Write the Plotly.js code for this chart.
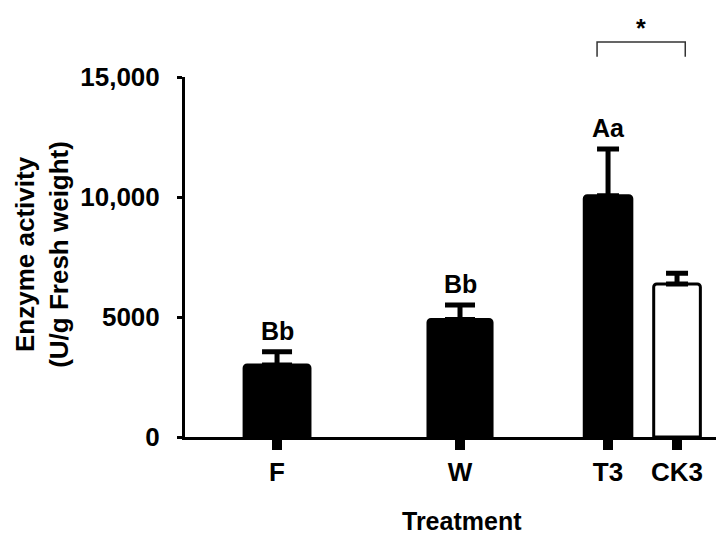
<!DOCTYPE html>
<html><head><meta charset="utf-8">
<script src="https://cdn.plot.ly/plotly-3.0.1.min.js"></script>
<style>html,body{margin:0;padding:0;background:#fff}</style>
</head><body><div id="chart" style="width:716px;height:542px"></div>
<script>
// ---- data ----
const categories = ['F', 'W', 'T3', 'CK3'];
const means = [3000, 4900, 10050, 6375];
const errors = [550, 600, 1950, 450];
const letters = ['Bb', 'Bb', 'Aa', ''];
const yTickVals = [0, 5000, 10000, 15000];
const yTickText = ['0', '5000', '10,000', '15,000'];
const sigMark = '*';

// ---- layout / style ----
const slotPos = [1, 2, 2.809, 3.186];
const barWidths = [0.36, 0.35, 0.26, 0.255];
const fills = ['#000', '#000', '#000', '#fff'];
const capHalf = [15, 15, 11, 11];
const FONT = 'Liberation Sans, Arial, sans-serif';

const traces = categories.map((c, i) => ({
  type: 'bar', x: [slotPos[i]], y: [means[i]], width: [barWidths[i]], name: c,
  marker: {color: fills[i], line: {color: '#000', width: 3}, cornerradius: 3},
  error_y: {type: 'data', symmetric: false, array: [errors[i]], arrayminus: [0],
            color: '#000', thickness: 5, width: capHalf[i]},
  hoverinfo: 'none'
}));

const annotations = [];
categories.forEach((c, i) => {
  if (letters[i]) annotations.push({
    x: slotPos[i], y: means[i] + errors[i], xref: 'x', yref: 'y',
    text: letters[i], showarrow: false, yanchor: 'bottom', yshift: 5,
    font: {family: FONT, size: 25, color: '#000', weight: 'bold'}
  });
});
const bx0 = slotPos[2] - 0.06, bx1 = slotPos[3] + 0.045;
annotations.push({
  x: (bx0 + bx1) / 2, y: 1.097, xref: 'x', yref: 'paper', text: sigMark, showarrow: false,
  yanchor: 'bottom', yshift: -2, font: {family: FONT, size: 25, color: '#000', weight: 'bold'}
});
annotations.push({
  x: 0, y: 0.506, xref: 'paper', yref: 'paper', xshift: -143, textangle: -90,
  text: 'Enzyme activity<br>(U/g Fresh weight)', showarrow: false,
  xanchor: 'center', yanchor: 'middle',
  font: {family: FONT, size: 26, color: '#000', weight: 'bold'}
});
annotations.push({
  x: 0.522, y: -0.233, xref: 'paper', yref: 'paper', text: 'Treatment', showarrow: false,
  xanchor: 'center', yanchor: 'middle',
  font: {family: FONT, size: 25, color: '#000', weight: 'bold'}
});

const shapes = [{
  type: 'path', xref: 'x', yref: 'paper',
  path: `M ${bx0} 1.056 L ${bx0} 1.097 L ${bx1} 1.097 L ${bx1} 1.056`,
  line: {color: '#333', width: 1.5}
}];

const layout = {
  width: 716, height: 542,
  margin: {l: 185, r: 0, t: 77, b: 105},
  paper_bgcolor: '#fff', plot_bgcolor: '#fff',
  showlegend: false, barmode: 'overlay',
  font: {family: FONT, color: '#000'},
  xaxis: {
    range: [0.497, 3.399], showgrid: false, zeroline: false,
    showline: true, linecolor: '#000', linewidth: 3,
    ticks: 'outside', ticklen: 10, tickwidth: 10, tickcolor: '#000',
    tickvals: slotPos, ticktext: categories,
    ticklabelstandoff: 0,
    tickfont: {family: FONT, size: 26, color: '#000', weight: 'bold'}
  },
  yaxis: {
    range: [0, 15000], showgrid: false, zeroline: false,
    showline: true, linecolor: '#000', linewidth: 3,
    ticks: 'outside', ticklen: 5, tickwidth: 3, tickcolor: '#000',
    tickvals: yTickVals, ticktext: yTickText,
    ticklabelstandoff: 12,
    tickfont: {family: FONT, size: 26, color: '#000', weight: 'bold'}
  },
  annotations, shapes
};

Plotly.newPlot('chart', traces, layout, {staticPlot: true, displayModeBar: false});
</script></body></html>
